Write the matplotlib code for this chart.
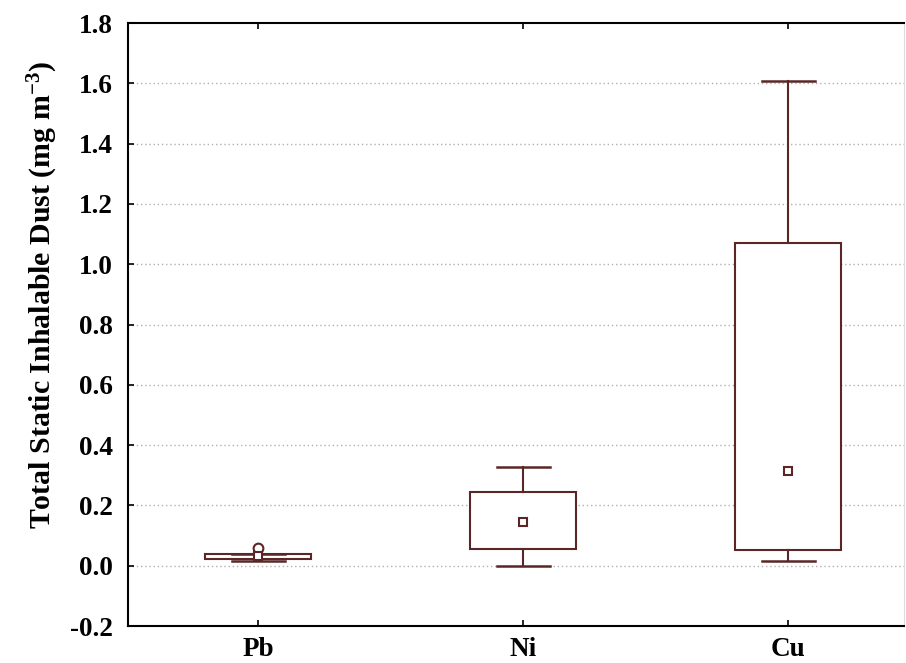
import matplotlib
matplotlib.use("Agg")
import matplotlib.pyplot as plt

categories = ["Pb", "Ni", "Cu"]
mins = [0.017, 0.0, 0.014]
q1s = [0.022, 0.057, 0.053]
medians = [0.033, 0.146, 0.313]
q3s = [0.040, 0.245, 1.071]
maxs = [0.040, 0.328, 1.609]
outliers = [[0.058], [], []]
yticks = [-0.2, 0.0, 0.2, 0.4, 0.6, 0.8, 1.0, 1.2, 1.4, 1.6, 1.8]

plt.rcParams['font.family'] = ['Liberation Serif', 'DejaVu Serif']
plt.rcParams['font.weight'] = 'bold'
plt.rcParams['mathtext.fontset'] = 'custom'
plt.rcParams['mathtext.rm'] = 'Liberation Serif:bold'
plt.rcParams['mathtext.bf'] = 'Liberation Serif:bold'
plt.rcParams['mathtext.default'] = 'bf'

fig = plt.figure(figsize=(9.06, 6.63), dpi=100)
ax = fig.add_axes([0.1413, 0.0558, 0.8567, 0.9095])

stats = []
for i, c in enumerate(categories):
    stats.append(dict(label=c, whislo=mins[i], q1=q1s[i], med=medians[i],
                      q3=q3s[i], whishi=maxs[i], mean=medians[i],
                      fliers=outliers[i]))

lc = '#5a2626'
ax.bxp(stats, positions=[1, 2, 3], widths=0.4, capwidths=0.2,
       showmeans=True, showfliers=True, patch_artist=True,
       boxprops=dict(facecolor='white', edgecolor=lc, linewidth=1.5),
       whiskerprops=dict(color=lc, linewidth=1.5),
       capprops=dict(color=lc, linewidth=1.8),
       medianprops=dict(visible=False),
       meanprops=dict(marker='s', markerfacecolor='white', markeredgecolor=lc,
                      markersize=6, markeredgewidth=1.5),
       flierprops=dict(marker='o', markerfacecolor='white', markeredgecolor=lc,
                       markersize=7, markeredgewidth=1.5),
       zorder=3)

for y in yticks[1:-1]:
    ax.axhline(y, color='#b0b0b0', linestyle=(0, (1, 2)), linewidth=1.0, zorder=1)

ax.set_xlim(0.509, 3.438)
ax.set_ylim(-0.2, 1.8)
ax.set_yticks(yticks)
ax.set_yticklabels([f"{v:.1f}" for v in yticks])
ax.set_xticks([1, 2, 3])
ax.set_xticklabels(categories)
ax.tick_params(axis='both', direction='in', labelsize=19.5, length=4, width=1.2,
               top=True, right=False)
ax.tick_params(axis='x', pad=8)
ax.tick_params(axis='y', pad=11)
for s in ['left', 'bottom', 'top']:
    ax.spines[s].set_linewidth(1.5)
ax.spines['right'].set_color('#dddddd')
for lab in ax.get_xticklabels() + ax.get_yticklabels():
    lab.set_fontweight('bold')

ax.set_ylabel("Total Static Inhalable Dust (mg m$^{-3}$)", fontsize=21.5,
              fontweight='bold')
ax.yaxis.set_label_coords(-0.088, 0.549)

fig.savefig("out.png", dpi=100)
